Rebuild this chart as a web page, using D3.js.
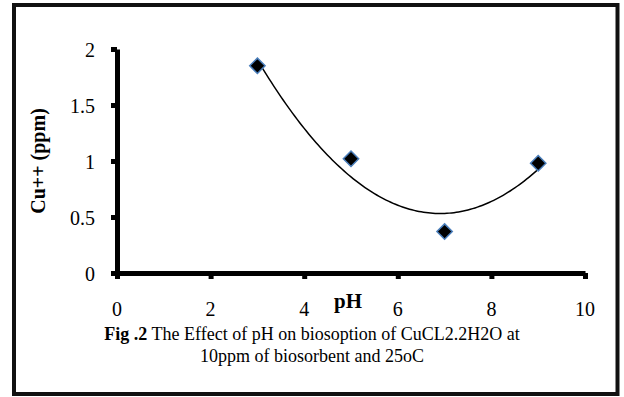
<!DOCTYPE html>
<html>
<head>
<meta charset="utf-8">
<script src="https://d3js.org/d3.v7.min.js"></script>
<style>
  body { margin: 0; background: #fff; }
</style>
</head>
<body>
<svg id="chart" width="624" height="397"></svg>
<script>
// data
var phValues = [3, 5, 7, 9];
var cuValues = [1.85, 1.02, 0.37, 0.98];
var xTicks = [0, 2, 4, 6, 8, 10];
var yTicks = [0, 0.5, 1, 1.5, 2];

var svg = d3.select("#chart");
var margin = { top: 49, right: 39, bottom: 124, left: 117 };
var width = +svg.attr("width"), height = +svg.attr("height");
var chartW = width - margin.left - margin.right;
var chartH = height - margin.top - margin.bottom;
var serif = "Liberation Serif";

// outer frame
svg.append("rect")
  .attr("x", 14).attr("y", 5)
  .attr("width", 603.5).attr("height", 389)
  .attr("fill", "none").attr("stroke", "#111").attr("stroke-width", 4);

var g = svg.append("g").attr("transform", "translate(" + margin.left + "," + margin.top + ")");

var x = d3.scaleLinear().domain([0, 10]).range([0, chartW]);
var y = d3.scaleLinear().domain([0, 2]).range([chartH, 0]);

// axes
var xAxis = g.append("g").attr("transform", "translate(0," + chartH + ")")
  .call(d3.axisBottom(x).tickValues(xTicks).tickSize(6).tickSizeOuter(0).tickFormat(""));
var yAxis = g.append("g")
  .call(d3.axisLeft(y).tickValues(yTicks).tickSize(6).tickSizeOuter(0).tickFormat(""));
[xAxis, yAxis].forEach(function(a) {
  a.select(".domain").attr("stroke", "#000").attr("stroke-width", 5);
  a.selectAll(".tick line").attr("stroke", "#000").attr("stroke-width", 5);
});

// tick labels
g.selectAll(".xlab").data(xTicks).enter().append("text")
  .attr("x", function(d) { return x(d); })
  .attr("y", chartH + 43)
  .attr("text-anchor", "middle")
  .attr("font-family", serif).attr("font-size", 20)
  .text(function(d) { return d; });

g.selectAll(".ylab").data(yTicks).enter().append("text")
  .attr("x", -22)
  .attr("y", function(d) { return y(d) + 8; })
  .attr("text-anchor", "end")
  .attr("font-family", serif).attr("font-size", 20)
  .text(function(d) { return d; });

// axis titles
svg.append("text")
  .attr("x", 348).attr("y", 308)
  .attr("text-anchor", "middle")
  .attr("font-family", serif).attr("font-size", 21).attr("font-weight", "bold")
  .text("pH");

svg.append("text")
  .attr("transform", "translate(45,161) rotate(-90)")
  .attr("text-anchor", "middle")
  .attr("font-family", serif).attr("font-size", 20).attr("font-weight", "bold")
  .text("Cu++ (ppm)");

// polynomial (order 2) trendline, least squares fit of the data
function quadFit(xs, ys) {
  var n = xs.length, s = [0, 0, 0, 0, 0], t = [0, 0, 0];
  for (var i = 0; i < n; i++) {
    for (var k = 0; k < 5; k++) s[k] += Math.pow(xs[i], k);
    for (var k2 = 0; k2 < 3; k2++) t[k2] += ys[i] * Math.pow(xs[i], k2);
  }
  var m = [[s[0], s[1], s[2], t[0]], [s[1], s[2], s[3], t[1]], [s[2], s[3], s[4], t[2]]];
  for (var c = 0; c < 3; c++) {
    for (var r = c + 1; r < 3; r++) {
      var f = m[r][c] / m[c][c];
      for (var j = c; j < 4; j++) m[r][j] -= f * m[c][j];
    }
  }
  var coef = [0, 0, 0];
  for (var r2 = 2; r2 >= 0; r2--) {
    var v = m[r2][3];
    for (var j2 = r2 + 1; j2 < 3; j2++) v -= m[r2][j2] * coef[j2];
    coef[r2] = v / m[r2][r2];
  }
  return function(xv) { return coef[0] + coef[1] * xv + coef[2] * xv * xv; };
}
var fit = quadFit(phValues, cuValues);
var trendX = d3.range(phValues[0], phValues[phValues.length - 1] + 0.001, 0.05);

g.append("path")
  .datum(trendX)
  .attr("fill", "none")
  .attr("stroke", "#000")
  .attr("stroke-width", 1.5)
  .attr("d", d3.line().x(function(d) { return x(d); }).y(function(d) { return y(fit(d)); }));

// markers
g.selectAll(".pt").data(phValues).enter().append("path")
  .attr("d", d3.symbol().type(d3.symbolDiamond2).size(150))
  .attr("transform", function(d, i) { return "translate(" + x(d) + "," + y(cuValues[i]) + ")"; })
  .attr("fill", "#000")
  .attr("stroke", "#4a7ebb")
  .attr("stroke-width", 1.5);

// caption
var cap = svg.append("text").attr("x", 312).attr("y", 340)
  .attr("text-anchor", "middle")
  .attr("font-family", serif).attr("font-size", 18);
cap.append("tspan").attr("font-weight", "bold").text("Fig .2");
cap.append("tspan").text(" The Effect of pH on biosoption of CuCL2.2H2O at");
svg.append("text").attr("x", 312).attr("y", 362)
  .attr("text-anchor", "middle")
  .attr("font-family", serif).attr("font-size", 18)
  .text("10ppm of biosorbent and 25oC");
</script>
</body>
</html>
